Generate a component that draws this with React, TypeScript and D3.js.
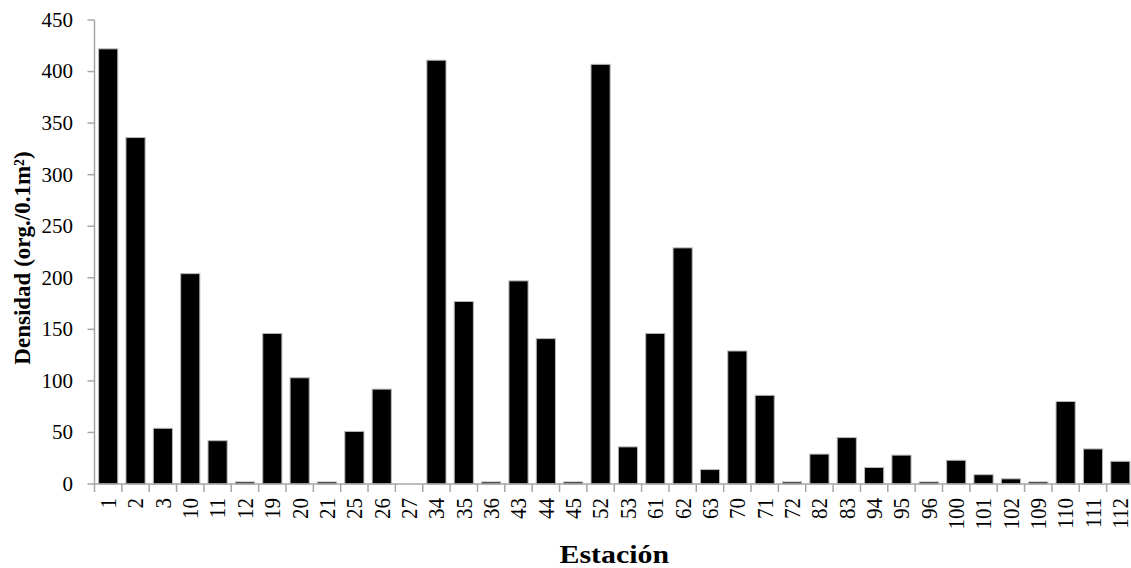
import { scaleBand, scaleLinear } from "d3";

const estaciones = [
  "1", "2", "3", "10", "11", "12", "19", "20", "21", "25", "26", "27",
  "34", "35", "36", "43", "44", "45", "52", "53", "61", "62", "63", "70",
  "71", "72", "82", "83", "94", "95", "96", "100", "101", "102", "109",
  "110", "111", "112",
];

const densidad = [
  422, 336, 54, 204, 42, 2, 146, 103, 2, 51, 92, 0,
  411, 177, 2, 197, 141, 2, 407, 36, 146, 229, 14, 129,
  86, 2, 29, 45, 16, 28, 2, 23, 9, 5, 2,
  80, 34, 22,
];

const yTicks = [0, 50, 100, 150, 200, 250, 300, 350, 400, 450];

const WIDTH = 1131;
const HEIGHT = 568;
const FONT = "'Liberation Serif', 'Times New Roman', serif";

export default function App() {
  const left = 94.5;
  const right = 1134;
  const top = 20;
  const bottom = 484;

  const x = scaleBand<string>()
    .domain(estaciones)
    .range([left, right])
    .paddingInner(0.3)
    .paddingOuter(0.15);

  const y = scaleLinear().domain([0, 450]).range([bottom, top]);

  const step = x.step();
  const boundaries = estaciones.map((_, i) => left + i * step);

  return (
    <svg
      width={WIDTH}
      height={HEIGHT}
      style={{ position: "absolute", left: 0, top: 0, background: "#fff" }}
      fontFamily={FONT}
    >
      {/* bars */}
      {estaciones.map((d, i) =>
        densidad[i] > 0 ? (
          <rect
            key={d}
            x={x(d)}
            y={y(densidad[i])}
            width={x.bandwidth()}
            height={bottom - y(densidad[i])}
            fill="#000"
            stroke="#b8b8b8"
            strokeWidth={1}
          />
        ) : null
      )}

      {/* y axis */}
      <line x1={left} x2={left} y1={top} y2={bottom} stroke="#a6a6a6" strokeWidth={1.5} />
      {yTicks.map((t) => (
        <g key={t}>
          <line x1={left - 7} x2={left} y1={y(t)} y2={y(t)} stroke="#a6a6a6" strokeWidth={1.5} />
          <text
            x={73}
            y={y(t)}
            dy="0.33em"
            textAnchor="end"
            fontSize={21}
            fill="#000"
          >
            {t}
          </text>
        </g>
      ))}

      {/* x axis */}
      <line x1={left} x2={right} y1={bottom} y2={bottom} stroke="#a6a6a6" strokeWidth={1.5} />
      {boundaries.map((bx, i) => (
        <line key={i} x1={bx} x2={bx} y1={bottom} y2={bottom + 8} stroke="#a6a6a6" strokeWidth={1.5} />
      ))}
      {estaciones.map((d) => {
        const cx = (x(d) ?? 0) + x.bandwidth() / 2;
        return (
          <text
            key={d}
            transform={`translate(${cx},498) scale(1.1,1) rotate(-90)`}
            dy="0.34em"
            textAnchor="end"
            fontSize={21}
            fill="#000"
          >
            {d}
          </text>
        );
      })}

      {/* axis titles */}
      <text
        transform={`translate(30,258) rotate(-90)`}
        textAnchor="middle"
        fontSize={23}
        fontWeight="bold"
        fill="#000"
      >
        Densidad (org./0.1m²)
      </text>
      <text
        transform={`translate(${(left + right) / 2},563) scale(1.15,1)`}
        textAnchor="middle"
        fontSize={26}
        fontWeight="bold"
        fill="#000"
      >
        Estación
      </text>
    </svg>
  );
}
